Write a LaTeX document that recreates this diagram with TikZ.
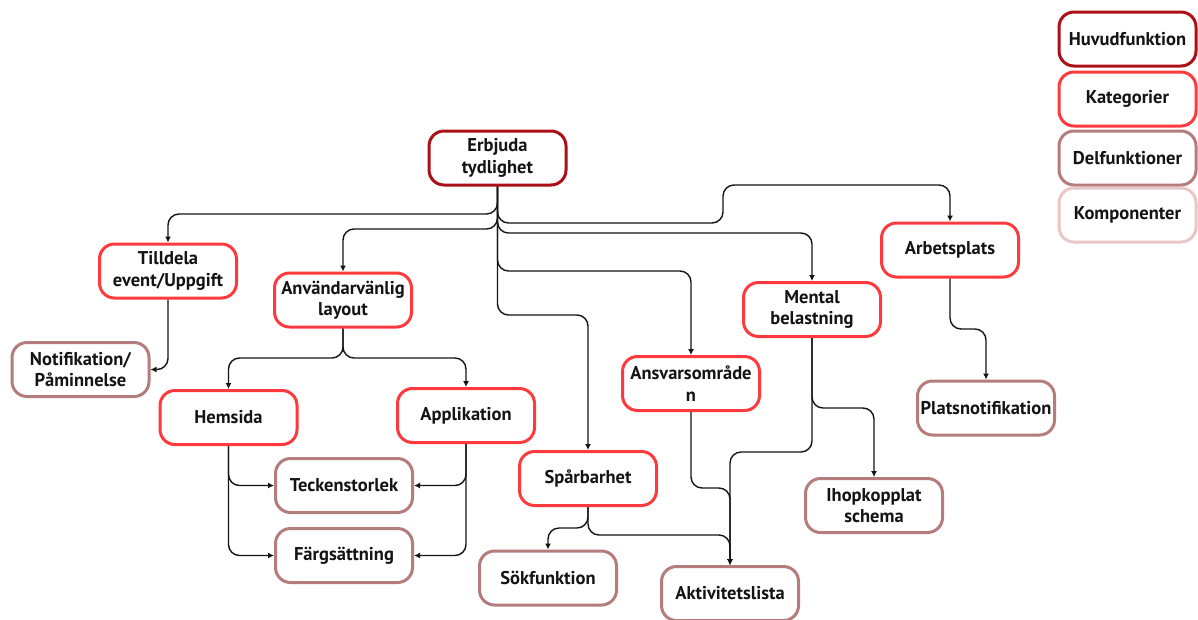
\documentclass[tikz,border=0pt]{standalone}
\usepackage{fontspec}
\setmainfont{PT Sans}
\usetikzlibrary{arrows.meta}

\definecolor{huvud}{RGB}{170,16,22}
\definecolor{kat}{RGB}{255,58,62}
\definecolor{delf}{RGB}{180,124,124}
\definecolor{komp}{RGB}{234,198,198}
\definecolor{ink}{RGB}{20,20,20}

\tikzset{
  box/.style={rounded corners=15pt, line width=3pt, fill=white, text=ink,
    minimum width=137pt, minimum height=54pt, align=center, inner sep=2pt,
    font=\bfseries\fontsize{18.5}{21.5}\selectfont},
  huvudbox/.style={box, draw=huvud},
  katbox/.style={box, draw=kat},
  delbox/.style={box, draw=delf},
  kompbox/.style={box, draw=komp},
  conn/.style={draw=ink, line width=1.4pt, rounded corners=11pt,
    -{Latex[length=6pt,width=6pt]}},
}

\begin{document}
\begin{tikzpicture}[x=1pt,y=-1pt]
\useasboundingbox[fill=white] (0,0) rectangle (1198,619);

% legend
\node[huvudbox] (lh) at (1127.5,39)  {Huvudfunktion};
\node[katbox]   (lk) at (1127.5,99)  {Kategorier};
\node[delbox]   (ld) at (1127.5,158) {Delfunktioner};
\node[kompbox]  (lc) at (1127.5,215) {Komponenter};

% main function
\node[huvudbox] (erb) at (497.5,158) {Erbjuda\\tydlighet};

% categories
\node[katbox] (till) at (168,271)   {Tilldela\\event/Uppgift};
\node[katbox] (anv)  at (343,300)   {Användarvänlig\\layout};
\node[katbox] (hem)  at (228.5,417.5) {Hemsida};
\node[katbox] (app)  at (466,415.5) {Applikation};
\node[katbox] (spar) at (588,478.5) {Spårbarhet};
\node[katbox] (ansv) at (691,383.5) {Ansvarsområde\\n};
\node[katbox] (ment) at (812,309.5) {Mental\\belastning};
\node[katbox] (arb)  at (950,250)   {Arbetsplats};

% sub-functions
\node[delbox] (notif) at (80.5,369.5) {Notifikation/\\Påminnelse};
\node[delbox] (teck)  at (344,485.5)  {Teckenstorlek};
\node[delbox] (farg)  at (344,555.5)  {Färgsättning};
\node[delbox] (sok)   at (548,578)    {Sökfunktion};
\node[delbox] (akt)   at (730,593.5)  {Aktivitetslista};
\node[delbox] (plats) at (986,408)    {Platsnotifikation};
\node[delbox] (ihop)  at (874,505.5)  {Ihopkopplat\\schema};

% connectors from the main function
\draw[conn] (erb.south) |- (168,214) -- (till.north);
\draw[conn] (erb.south) |- (343,229) -- (anv.north);
\draw[conn] (erb.south) |- (723,223) |- (950,185) -- (arb.north);
\draw[conn] (erb.south) |- (812,233) -- (ment.north);
\draw[conn] (erb.south) |- (691,271) -- (ansv.north);
\draw[conn] (erb.south) |- (588,315) -- (spar.north);

% category connectors
\draw[conn] (till.south) |- (notif.east);
\draw[conn] (anv.south) |- (228.5,358) -- (hem.north);
\draw[conn] (anv.south) |- (466,358) -- (app.north);
\draw[conn] (hem.south) |- (teck.west);
\draw[conn] (hem.south) |- (farg.west);
\draw[conn] (app.south) |- (teck.east);
\draw[conn] (app.south) |- (farg.east);
\draw[conn] (spar.south) |- (548,528) -- (sok.north);
\draw[conn] (spar.south) |- (730,535) -- (akt.north);
\draw[conn] (ansv.south) |- (730,488) -- (akt.north);
\draw[conn] (ment.south) |- (730,452) -- (akt.north);
\draw[conn] (ment.south) |- (874,408) -- (ihop.north);
\draw[conn] (arb.south) |- (986,329) -- (plats.north);
\end{tikzpicture}
\end{document}
